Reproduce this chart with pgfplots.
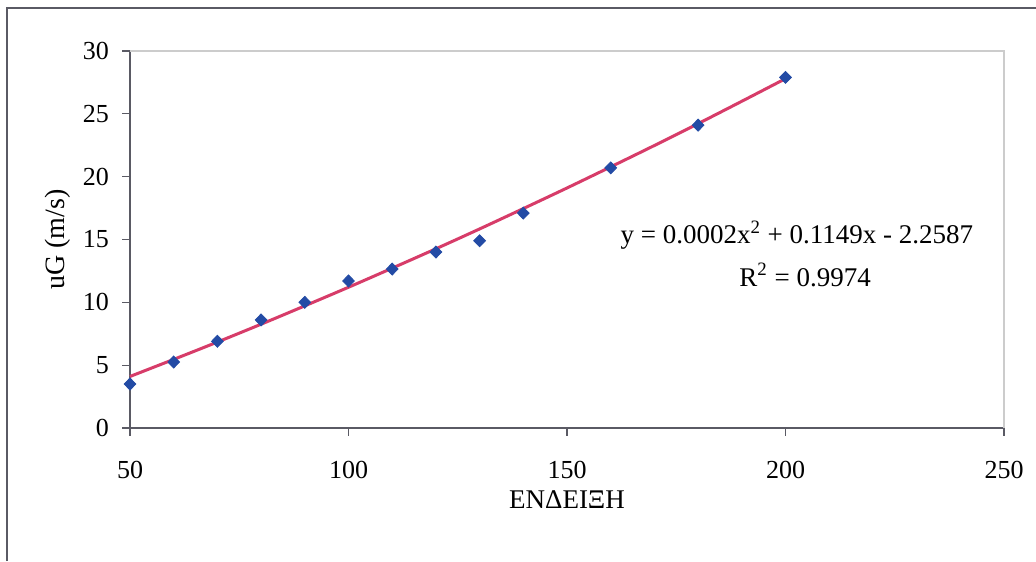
\documentclass[border=0pt]{standalone}
\usepackage{pgfplots}
\pgfplotsset{compat=1.18}
\usepackage{fontspec}
\setmainfont{Liberation Serif}
\definecolor{ptblue}{RGB}{35,75,165}
\definecolor{trend}{RGB}{215,60,105}
\definecolor{axgray}{RGB}{90,90,100}
\begin{document}
\begin{tikzpicture}
\useasboundingbox (0pt,0pt) rectangle (518pt,280.5pt);
\fill[white] (0pt,0pt) rectangle (518pt,280.5pt);
\draw[axgray, line width=0.8pt] (3.5pt,0pt) -- (3.5pt,276.5pt) -- (518pt,276.5pt);
\begin{axis}[
  at={(65pt,66.5pt)}, anchor=south west,
  scale only axis, width=437pt, height=188.5pt,
  xmin=50, xmax=250, ymin=0, ymax=30,
  xtick={50,100,...,250}, ytick={0,5,...,30},
  axis x line*=bottom, axis y line*=left,
  axis line style={axgray, line width=0.8pt, -},
  tick style={axgray, line width=0.6pt},
  tick align=outside, major tick length=4pt,
  /pgf/number format/assume math mode=true,
  tick label style={font=\fontsize{13}{14}\selectfont, black},
  yticklabel style={xshift=-3pt},
  xticklabel style={yshift=-9pt},
  xlabel={ΕΝΔΕΙΞΗ}, ylabel={uG (m/s)},
  every axis x label/.style={at={(axis description cs:0.5,-0.19)}, anchor=center, font=\fontsize{13.5}{15}\selectfont},
  every axis y label/.style={at={(axis description cs:-0.083,0.5)}, anchor=center, rotate=90, font=\fontsize{14}{15}\selectfont},
  clip=false,
]
\draw[gray!40, line width=0.8pt] (rel axis cs:0,1) -- (rel axis cs:1,1) -- (rel axis cs:1,0);
\addplot[trend, line width=1.5pt, smooth] coordinates {
(50,4.10) (60,5.46) (70,6.84) (80,8.26) (90,9.72) (100,11.20) (110,12.72)
(120,14.26) (130,15.84) (140,17.46) (150,19.10) (160,20.78) (170,22.48)
(180,24.22) (190,26.00) (200,27.80)};
\addplot[only marks, mark=diamond*, mark size=3pt, mark options={xscale=1.3}, color=ptblue] coordinates {
(50,3.5) (60,5.25) (70,6.9) (80,8.6) (90,10.0) (100,11.7) (110,12.65)
(120,14.0) (130,14.9) (140,17.1) (160,20.7) (180,24.1) (200,27.9)};
\node[font=\fontsize{13.5}{14}\selectfont] at (axis cs:202.6,15.35) {y = 0.0002x\textsuperscript{2} + 0.1149x - 2.2587};
\node[font=\fontsize{13.5}{14}\selectfont] at (axis cs:204.5,12.17) {R\textsuperscript{2} = 0.9974};
\end{axis}
\end{tikzpicture}
\end{document}
